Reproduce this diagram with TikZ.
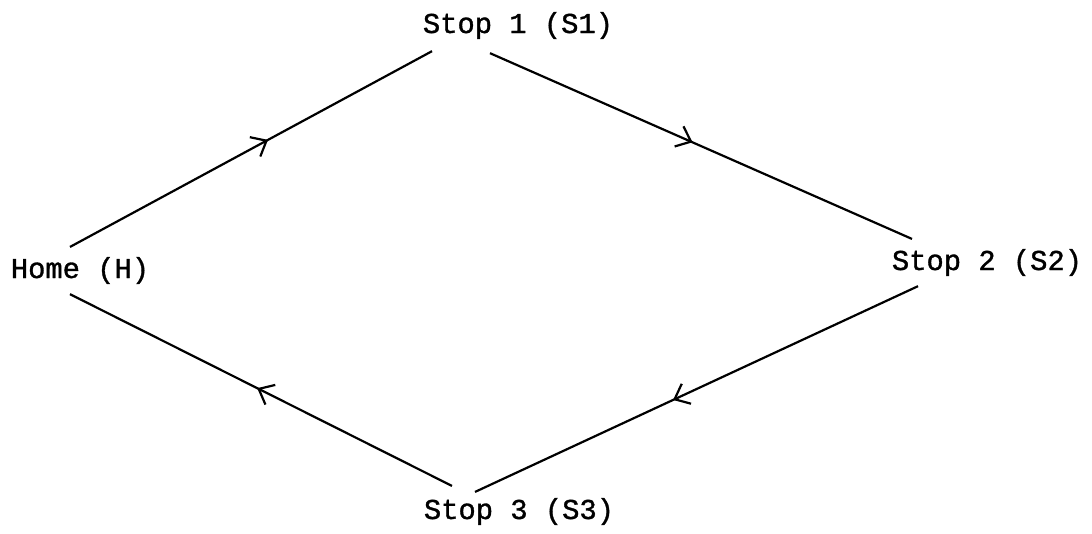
\documentclass[tikz,border=0pt]{standalone}
\usepackage{fontspec}
\setmonofont[FakeBold=1.2]{Liberation Mono}
\usetikzlibrary{arrows.meta,decorations.markings}
\begin{document}
\begin{tikzpicture}[x=1pt,y=-1pt,
  lbl/.style={inner sep=0pt,anchor=base,font=\ttfamily\fontsize{28.8}{30}\selectfont},
  edge/.style={line width=2.2pt,postaction={decorate},
    decoration={markings,mark=at position #1 with {\arrow{Straight Barb[length=13pt,width=22pt,line width=2.2pt]}}}}]
\useasboundingbox (0,0) rectangle (1092,533);
\node[lbl] (s1) at (518,33) {Stop 1 (S1)};
\node[lbl] (h)  at (80,278) {Home (H)};
\node[lbl] (s2) at (987,270) {Stop 2 (S2)};
\node[lbl] (s3) at (519,519) {Stop 3 (S3)};
% line ends near the labels
\coordinate (h1) at ([xshift=-10pt,yshift=10pt]h.north);
\coordinate (s1a) at ([xshift=-86pt,yshift=-12pt]s1.south);
\coordinate (s1b) at ([xshift=-28pt,yshift=-14pt]s1.south);
\coordinate (s2a) at ([xshift=-75pt,yshift=10pt]s2.north);
\coordinate (s2b) at ([xshift=-69pt,yshift=-10pt]s2.south);
\coordinate (s3a) at ([xshift=-44pt,yshift=6pt]s3.north);
\coordinate (s3b) at ([xshift=-67pt,yshift=12pt]s3.north);
\coordinate (h2) at ([xshift=-10pt,yshift=-10pt]h.south);
\draw[edge=0.547] (h1) -- (s1a);
\draw[edge=0.48] (s1b) -- (s2a);
\draw[edge=0.553] (s2b) -- (s3a);
\draw[edge=0.51] (s3b) -- (h2);
\end{tikzpicture}
\end{document}
